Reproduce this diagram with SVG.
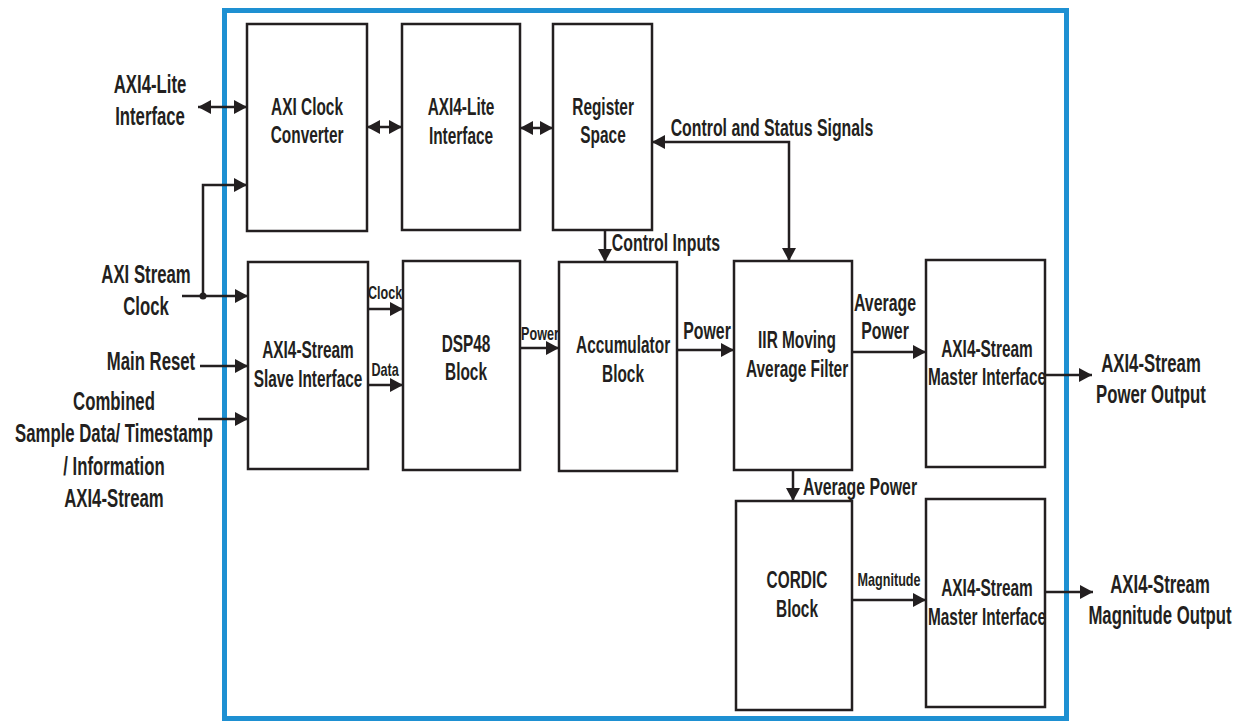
<svg xmlns="http://www.w3.org/2000/svg" width="1240" height="721" viewBox="0 0 1240 721">
<style>
.box{fill:#fff;stroke:#231f20;stroke-width:2.5}
.ln{fill:none;stroke:#231f20;stroke-width:2.5}
text{font-family:"Liberation Sans",Arial,sans-serif;font-weight:bold;fill:#231f20;text-anchor:middle;transform-box:fill-box;transform-origin:center}
.b{font-size:23px;transform:scaleX(0.67)}
.e{font-size:25px;transform:scaleX(0.67)}
.s{font-size:18px;transform:scaleX(0.7)}
.m{font-size:23px;transform:scaleX(0.69)}
</style>
<defs>
<marker id="ah" viewBox="0 0 13 14" refX="13" refY="7" markerWidth="13" markerHeight="14" orient="auto-start-reverse" markerUnits="userSpaceOnUse">
<path d="M0,0 L13,7 L0,14 z" fill="#231f20"/>
</marker>
</defs>
<rect x="0" y="0" width="1240" height="721" fill="#fff"/>
<rect id="frame" x="224.5" y="10.5" width="842" height="708" fill="none" stroke="#1e90d2" stroke-width="5"/>

<g id="axi_clock_converter"><rect class="box" x="247" y="24" width="120" height="207"/><text class="b" x="307" y="115">AXI Clock</text><text class="b" x="307" y="143">Converter</text></g>
<g id="axi4_lite_interface"><rect class="box" x="402" y="24" width="118" height="206"/><text class="b" x="461" y="115">AXI4-Lite</text><text class="b" x="461" y="144">Interface</text></g>
<g id="register_space"><rect class="box" x="553" y="24" width="99" height="206"/><text class="b" x="603" y="115">Register</text><text class="b" x="603" y="143">Space</text></g>
<g id="slave_interface"><rect class="box" x="248" y="262" width="120" height="207"/><text class="b" x="308" y="358">AXI4-Stream</text><text class="b" x="308" y="387">Slave Interface</text></g>
<g id="dsp48"><rect class="box" x="403" y="261" width="117" height="209"/><text class="b" x="466" y="352">DSP48</text><text class="b" x="466" y="380">Block</text></g>
<g id="accumulator"><rect class="box" x="559" y="262" width="118" height="209"/><text class="b" x="623" y="353">Accumulator</text><text class="b" x="623" y="382">Block</text></g>
<g id="iir_filter"><rect class="box" x="734" y="261" width="118" height="209"/><text class="b" x="797" y="348">IIR Moving</text><text class="b" x="797" y="377">Average Filter</text></g>
<g id="master_power"><rect class="box" x="926" y="260" width="119" height="207"/><text class="b" x="987" y="357">AXI4-Stream</text><text class="b" x="987" y="385">Master Interface</text></g>
<g id="cordic"><rect class="box" x="736" y="501" width="116" height="209"/><text class="b" x="797" y="588">CORDIC</text><text class="b" x="797" y="617">Block</text></g>
<g id="master_magnitude"><rect class="box" x="926" y="499" width="119" height="208"/><text class="b" x="987" y="596">AXI4-Stream</text><text class="b" x="987" y="625">Master Interface</text></g>

<g id="connectors">
<path class="ln" d="M198,107 H247" marker-start="url(#ah)" marker-end="url(#ah)"/>
<path class="ln" d="M367,127 H402" marker-start="url(#ah)" marker-end="url(#ah)"/>
<path class="ln" d="M520,128 H553" marker-start="url(#ah)" marker-end="url(#ah)"/>
<path class="ln" d="M652,142 H789 V261" marker-start="url(#ah)" marker-end="url(#ah)"/>
<path class="ln" d="M605,230 V262" marker-end="url(#ah)"/>
<path class="ln" d="M182,296 H248" marker-end="url(#ah)"/>
<path class="ln" d="M203,296 V185 H247" marker-end="url(#ah)"/>
<circle cx="203" cy="296" r="3.5" fill="#231f20"/>
<path class="ln" d="M200,366 H248" marker-end="url(#ah)"/>
<path class="ln" d="M198,419 H248" marker-end="url(#ah)"/>
<path class="ln" d="M368,309 H403" marker-end="url(#ah)"/>
<path class="ln" d="M368,385 H403" marker-end="url(#ah)"/>
<path class="ln" d="M520,348 H559" marker-end="url(#ah)"/>
<path class="ln" d="M677,350 H734" marker-end="url(#ah)"/>
<path class="ln" d="M852,352 H926" marker-end="url(#ah)"/>
<path class="ln" d="M1045,375 H1092" marker-end="url(#ah)"/>
<path class="ln" d="M793,470 V501" marker-end="url(#ah)"/>
<path class="ln" d="M852,600 H926" marker-end="url(#ah)"/>
<path class="ln" d="M1045,592 H1093" marker-end="url(#ah)"/>
</g>

<g id="labels">
<text class="m" x="772" y="136">Control and Status Signals</text>
<text class="m" x="666" y="251">Control Inputs</text>
<text class="s" x="385" y="299">Clock</text>
<text class="s" x="385" y="376">Data</text>
<text class="s" x="540" y="340">Power</text>
<text class="m" x="707" y="339">Power</text>
<text class="m" x="885" y="311">Average</text>
<text class="m" x="885" y="339">Power</text>
<text class="m" x="860" y="495">Average Power</text>
<text class="s" x="889" y="586">Magnitude</text>
</g>

<g id="external">
<text class="e" x="150" y="93">AXI4-Lite</text>
<text class="e" x="150" y="125">Interface</text>
<text class="e" x="146" y="283">AXI Stream</text>
<text class="e" x="146" y="315">Clock</text>
<text class="e" x="151" y="370">Main Reset</text>
<text class="e" x="114" y="410">Combined</text>
<text class="e" x="114" y="442">Sample Data/ Timestamp</text>
<text class="e" x="114" y="475">/ Information</text>
<text class="e" x="114" y="507">AXI4-Stream</text>
<text class="e" x="1151" y="372">AXI4-Stream</text>
<text class="e" x="1151" y="403">Power Output</text>
<text class="e" x="1160" y="593">AXI4-Stream</text>
<text class="e" x="1160" y="624">Magnitude Output</text>
</g>
</svg>
